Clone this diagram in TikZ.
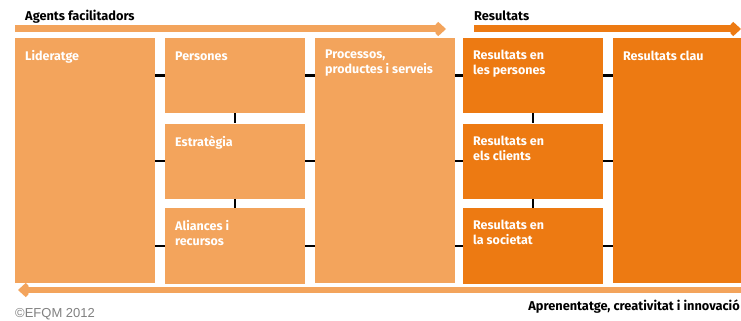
\documentclass[tikz,border=0pt]{standalone}
\usepackage{fontspec}
\setmainfont{Fira Sans}
\newfontfamily\copyfont{Liberation Sans}
\usetikzlibrary{arrows.meta,positioning}
\definecolor{efqmlight}{RGB}{243,164,92}
\definecolor{efqmdark}{RGB}{237,122,18}

\begin{document}
\begin{tikzpicture}[x=1pt,y=-1pt,
  box/.style={fill=#1,inner sep=0,minimum width=140,minimum height=75,anchor=north west},
  lbl/.style={text=white,font=\bfseries\fontsize{12.5}{15}\selectfont,align=left,anchor=north west,inner sep=0,execute at begin node=\strut},
  head/.style={font=\bfseries\fontsize{12.8}{15}\selectfont,anchor=base west,inner sep=0},
  link/.style={line width=2.5},
  flow/.style={line width=#1,-{Straight Barb[length=6pt,width=11pt,line width=4.5pt]}}]
\useasboundingbox (0,0) rectangle (741,321);
% agents
\node [box=efqmlight,minimum height=245] (lid) at (15,38) {};
\node [box=efqmlight] (per) at (165,38) {};
\node [box=efqmlight,below=10pt of per] (est) {};
\node [box=efqmlight,minimum height=76,below=9pt of est] (ali) {};
\node [box=efqmlight,minimum height=245] (pro) at (315,38) {};
% resultats
\node [box=efqmdark] (rpe) at (463,38) {};
\node [box=efqmdark,below=10pt of rpe] (rcl) {};
\node [box=efqmdark,minimum height=76,below=9pt of rcl] (rso) {};
\node [box=efqmdark,minimum height=245,minimum width=135] (rkey) at (613,38) {};
% texts
\node [lbl] (lid-t) at ([shift={(10,12)}]lid.north west) {Lideratge};
\node [lbl] (per-t) at ([shift={(10,12)}]per.north west) {Persones};
\node [lbl] (est-t) at ([shift={(10,12)}]est.north west) {Estratègia};
\node [lbl] (ali-t) at ([shift={(10,12)}]ali.north west) {Aliances i\\recursos};
\node [lbl] (pro-t) at ([shift={(10,12)}]pro.north west) {Processos,\\productes i serveis};
\node [lbl] (rpe-t) at ([shift={(10,12)}]rpe.north west) {Resultats en\\les persones};
\node [lbl] (rcl-t) at ([shift={(10,12)}]rcl.north west) {Resultats en\\els clients};
\node [lbl] (rso-t) at ([shift={(10,12)}]rso.north west) {Resultats en\\la societat};
\node [lbl] (rkey-t) at ([shift={(10,12)}]rkey.north west) {Resultats clau};
% links
\foreach \b in {per,est,ali} {
  \draw [link] (lid.east |- \b) -- (\b.west);
  \draw [link] (\b.east) -- (\b -| pro.west);
}
\foreach \b in {rpe,rcl,rso} {
  \draw [link] (pro.east |- \b) -- (\b.west);
  \draw [link] (\b.east) -- (\b -| rkey.west);
}
\draw [link] (per.south) -- (est.north);
\draw [link] (est.south) -- (ali.north);
\draw [link] (rpe.south) -- (rcl.north);
\draw [link] (rcl.south) -- (rso.north);
% arrows
\coordinate (ag0) at (15,29);
\coordinate (ag1) at (446,29);
\coordinate (re0) at (474,29);
\coordinate (re1) at (741,29);
\coordinate (le0) at (745,290);
\coordinate (le1) at (18,290);
\draw [flow=7,efqmlight] (ag0) -- (ag1);
\draw [flow=7,efqmdark] (re0) -- (re1);
\draw [flow=6,efqmlight] (le0) -- (le1);
\node [head] (agents) at (25,21) {Agents facilitadors};
\node [head] (res) at (474,21) {Resultats};
\node [head,anchor=base east] (learn) at (740,310) {Aprenentatge, creativitat i innovació};
\node [anchor=base west,inner sep=0,text=gray,font=\copyfont\fontsize{13}{15}\selectfont] (copy) at (15,317) {©EFQM 2012};
\end{tikzpicture}
\end{document}
